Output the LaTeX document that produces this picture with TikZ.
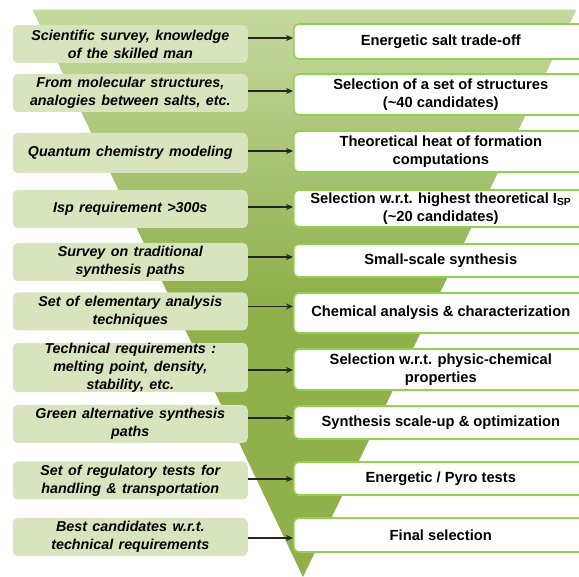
\documentclass[tikz,border=0pt]{standalone}
\usepackage{fontspec}
\setmainfont{Liberation Sans}
\usetikzlibrary{arrows.meta}
\definecolor{lboxfill}{HTML}{D7E4BD}
\definecolor{rline}{HTML}{92D050}
\definecolor{ftop}{HTML}{C6D9A0}
\definecolor{fbot}{HTML}{8FB04B}
\newcommand\leftfnt{\fontsize{14.3}{18}\selectfont\bfseries\itshape\spaceskip=5.4pt plus 1pt\relax}
\tikzset{
 lbox/.style={fill=lboxfill, rounded corners=5pt, minimum width=235pt, minimum height=38pt, inner sep=0pt, align=center, font=\leftfnt},
 rbox/.style={fill=white, draw=rline, line width=1.6pt, rounded corners=5pt, minimum width=294pt, inner sep=0pt, align=center, anchor=west, font=\fontsize{14.7}{18}\selectfont\bfseries},
 conn/.style={-{Stealth[length=7pt,width=6pt]}, line width=1.1pt, draw=black!85}
}
\begin{document}
\begin{tikzpicture}[x=1pt,y=-1pt]
\path[use as bounding box] (0,0) rectangle (579,577);
\clip (0,0) rectangle (579,577);
% funnel
\fill[fbot] (33,10) -- (576,10) -- (303,577) -- cycle;
\begin{scope}
\clip (33,10) -- (576,10) -- (303,577) -- cycle;
\shade[top color=ftop, bottom color=fbot] (0,10) rectangle (579,300);
\end{scope}
% left boxes
\node[lbox] (l1) at (130.3,44) {Scientific survey, knowledge\\of the skilled man};
\node[lbox] (l2) at (130.3,93) {From molecular structures,\\analogies between salts, etc.};
\node[lbox, minimum height=40pt] (l3) at (130.3,153) {Quantum chemistry modeling};
\node[lbox] (l4) at (130.3,209) {Isp requirement >300s};
\node[lbox] (l5) at (130.3,262) {Survey on traditional\\synthesis paths};
\node[lbox] (l6) at (130.3,311.5) {Set of elementary analysis\\techniques};
\node[lbox] (l7) at (130.3,367.5) {Technical requirements :\\melting point, density,\\stability, etc.};
\node[lbox] (l8) at (130.3,424) {Green alternative synthesis\\paths};
\node[lbox] (l9) at (130.3,480.5) {Set of regulatory tests for\\handling \& transportation};
\node[lbox] (l10) at (130.3,537) {Best candidates w.r.t.\\technical requirements};
% right boxes
\node[rbox, minimum height=35pt] (r1) at (293,41.5) {Energetic salt trade-off};
\node[rbox, minimum height=41pt] (r2) at (293,94.5) {Selection of a set of structures\\(\textasciitilde 40 candidates)};
\node[rbox, minimum height=41pt] (r3) at (293,151.5) {Theoretical heat of formation\\computations};
\node[rbox, minimum height=37pt] (r4) at (293,208.5) {Selection w.r.t. highest theoretical I\textsubscript{SP}\\(\textasciitilde 20 candidates)};
\node[rbox, minimum height=33pt] (r5) at (293,260.5) {Small-scale synthesis};
\node[rbox, minimum height=40pt] (r6) at (293,313) {Chemical analysis \& characterization};
\node[rbox, minimum height=41pt] (r7) at (293,369.5) {Selection w.r.t. physic-chemical\\properties};
\node[rbox, minimum height=33pt] (r8) at (293,422.5) {Synthesis scale-up \& optimization};
\node[rbox, minimum height=33pt] (r9) at (293,478.5) {Energetic / Pyro tests};
\node[rbox, minimum height=34pt] (r10) at (293,535) {Final selection};
% connectors
\draw[conn] ([yshift=6pt]l1.east) -- ([yshift=6pt]l1.east -| r1.west);
\draw[conn] ([yshift=2pt]l2.east) -- ([yshift=2pt]l2.east -| r2.west);
\draw[conn] ([yshift=2pt]l3.east) -- ([yshift=2pt]l3.east -| r3.west);
\draw[conn] ([yshift=2pt]l4.east) -- ([yshift=2pt]l4.east -| r4.west);
\draw[conn] ([yshift=5pt]l5.east) -- ([yshift=5pt]l5.east -| r5.west);
\draw[conn] ([yshift=5pt]l6.east) -- ([yshift=5pt]l6.east -| r6.west);
\draw[conn] ([yshift=-2.5pt]l7.east) -- ([yshift=-2.5pt]l7.east -| r7.west);
\draw[conn] ([yshift=6pt]l8.east) -- ([yshift=6pt]l8.east -| r8.west);
\draw[conn] ([yshift=1.5pt]l9.east) -- ([yshift=1.5pt]l9.east -| r9.west);
\draw[conn] ([yshift=-1pt]l10.east) -- ([yshift=-1pt]l10.east -| r10.west);
\end{tikzpicture}
\end{document}
